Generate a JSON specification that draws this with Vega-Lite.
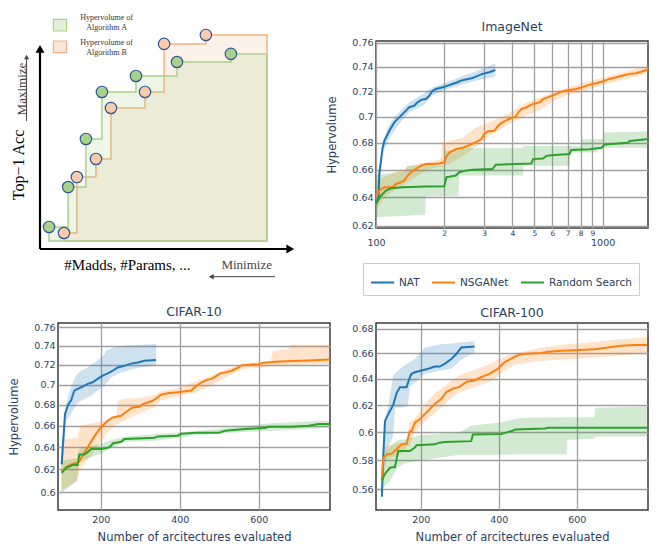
{
"$schema": "https://vega.github.io/schema/vega-lite/v6.json",
"padding": {"left": 8, "top": 13, "right": 5, "bottom": 0},
"background": "white",
"columns": 2,
"spacing": {"row": 95, "column": 46},
"bounds": "flush",
"align": "all",
"resolve": {"legend": {"color": "independent"}},
"datasets": {
"frontA": [{"u":3.5,"v":10.6,"pt":"sol"},{"u":10.9,"v":29.8,"pt":"sol"},{"u":17.8,"v":52.9,"pt":"sol"},{"u":24.0,"v":75.5,"pt":"sol"},{"u":37.2,"v":83.2,"pt":"sol"},{"u":53.1,"v":89.9,"pt":"sol"},{"u":74.0,"v":93.8,"pt":"sol"},{"u":88.0,"v":93.8,"pt":"ref"}],
"frontB": [{"u":9.3,"v":7.7,"pt":"sol"},{"u":14.3,"v":34.6,"pt":"sol"},{"u":21.7,"v":43.3,"pt":"sol"},{"u":27.5,"v":67.8,"pt":"sol"},{"u":40.7,"v":75.5,"pt":"sol"},{"u":48.1,"v":98.6,"pt":"sol"},{"u":64.3,"v":102.9,"pt":"sol"},{"u":88.0,"v":102.9,"pt":"ref"}],
"inLine": [
{"method":"NAT","x":100,"y":0.6353},{"method":"NAT","x":102.7,"y":0.64},{"method":"NAT","x":103.4,"y":0.6569},{"method":"NAT","x":107,"y":0.6763},{"method":"NAT","x":108.8,"y":0.6813},{"method":"NAT","x":114.5,"y":0.6891},{"method":"NAT","x":120.4,"y":0.6956},{"method":"NAT","x":126.7,"y":0.6995},{"method":"NAT","x":133.2,"y":0.7034},{"method":"NAT","x":140.2,"y":0.7074},{"method":"NAT","x":147.5,"y":0.7087},{"method":"NAT","x":152.6,"y":0.7113},{"method":"NAT","x":157.9,"y":0.7132},{"method":"NAT","x":166,"y":0.7139},{"method":"NAT","x":171.8,"y":0.7166},{"method":"NAT","x":177.7,"y":0.7205},{"method":"NAT","x":183.9,"y":0.7219},{"method":"NAT","x":196.8,"y":0.7232},{"method":"NAT","x":207,"y":0.7246},{"method":"NAT","x":217.7,"y":0.7259},{"method":"NAT","x":229,"y":0.7273},{"method":"NAT","x":237,"y":0.7286},{"method":"NAT","x":249,"y":0.7295},{"method":"NAT","x":266.5,"y":0.7308},{"method":"NAT","x":275.8,"y":0.7319},{"method":"NAT","x":295,"y":0.7341},{"method":"NAT","x":316,"y":0.7354},{"method":"NAT","x":336,"y":0.7373},
{"method":"NSGANet","x":100,"y":0.6405},{"method":"NSGANet","x":103.4,"y":0.6448},{"method":"NSGANet","x":108.8,"y":0.6472},{"method":"NSGANet","x":118.4,"y":0.6472},{"method":"NSGANet","x":122.5,"y":0.6496},{"method":"NSGANet","x":128.9,"y":0.6508},{"method":"NSGANet","x":133.2,"y":0.652},{"method":"NSGANet","x":137.9,"y":0.6557},{"method":"NSGANet","x":142.6,"y":0.6581},{"method":"NSGANet","x":150,"y":0.6605},{"method":"NSGANet","x":157.9,"y":0.6629},{"method":"NSGANet","x":166,"y":0.6641},{"method":"NSGANet","x":177.7,"y":0.6641},{"method":"NSGANet","x":190.1,"y":0.6646},{"method":"NSGANet","x":200,"y":0.6654},{"method":"NSGANet","x":203.4,"y":0.669},{"method":"NSGANet","x":210.4,"y":0.6727},{"method":"NSGANet","x":225.2,"y":0.6751},{"method":"NSGANet","x":240.9,"y":0.6763},{"method":"NSGANet","x":253.4,"y":0.6776},{"method":"NSGANet","x":266.5,"y":0.6793},{"method":"NSGANet","x":275.8,"y":0.6805},{"method":"NSGANet","x":290.9,"y":0.6826},{"method":"NSGANet","x":300,"y":0.6865},{"method":"NSGANet","x":310,"y":0.6886},{"method":"NSGANet","x":332.3,"y":0.6891},{"method":"NSGANet","x":343.6,"y":0.6922},{"method":"NSGANet","x":355.4,"y":0.6948},{"method":"NSGANet","x":373.7,"y":0.6969},{"method":"NSGANet","x":393,"y":0.6987},{"method":"NSGANet","x":413,"y":0.70},{"method":"NSGANet","x":425,"y":0.7034},{"method":"NSGANet","x":438.2,"y":0.706},{"method":"NSGANet","x":461,"y":0.7074},{"method":"NSGANet","x":493.2,"y":0.71},{"method":"NSGANet","x":527.8,"y":0.7113},{"method":"NSGANet","x":545.9,"y":0.7139},{"method":"NSGANet","x":584.1,"y":0.7158},{"method":"NSGANet","x":614.3,"y":0.7174},{"method":"NSGANet","x":646.6,"y":0.7192},{"method":"NSGANet","x":680.2,"y":0.7205},{"method":"NSGANet","x":715.5,"y":0.7211},{"method":"NSGANet","x":765.6,"y":0.7219},{"method":"NSGANet","x":805.4,"y":0.7232},{"method":"NSGANet","x":876.4,"y":0.7254},{"method":"NSGANet","x":937.9,"y":0.7265},{"method":"NSGANet","x":1003.5,"y":0.7281},{"method":"NSGANet","x":1073.7,"y":0.73},{"method":"NSGANet","x":1148.8,"y":0.7314},{"method":"NSGANet","x":1229,"y":0.7327},{"method":"NSGANet","x":1315,"y":0.7341},{"method":"NSGANet","x":1407,"y":0.7346},{"method":"NSGANet","x":1480,"y":0.7359},{"method":"NSGANet","x":1557,"y":0.7373},{"method":"NSGANet","x":1585,"y":0.7378},
{"method":"Random Search","x":100,"y":0.6353},{"method":"Random Search","x":105.2,"y":0.6412},{"method":"Random Search","x":110.7,"y":0.6448},{"method":"Random Search","x":116.4,"y":0.6465},{"method":"Random Search","x":131,"y":0.6472},{"method":"Random Search","x":166,"y":0.6477},{"method":"Random Search","x":200,"y":0.6479},{"method":"Random Search","x":204.7,"y":0.6545},{"method":"Random Search","x":210.4,"y":0.6548},{"method":"Random Search","x":225.2,"y":0.6557},{"method":"Random Search","x":233,"y":0.6581},{"method":"Random Search","x":249.1,"y":0.6593},{"method":"Random Search","x":266.5,"y":0.66},{"method":"Random Search","x":326.5,"y":0.6605},{"method":"Random Search","x":337.9,"y":0.6637},{"method":"Random Search","x":413,"y":0.6641},{"method":"Random Search","x":485,"y":0.6646},{"method":"Random Search","x":493.2,"y":0.6678},{"method":"Random Search","x":546,"y":0.6683},{"method":"Random Search","x":564,"y":0.6702},{"method":"Random Search","x":593,"y":0.6707},{"method":"Random Search","x":715,"y":0.6715},{"method":"Random Search","x":726,"y":0.6746},{"method":"Random Search","x":876,"y":0.6751},{"method":"Random Search","x":988,"y":0.6763},{"method":"Random Search","x":1023,"y":0.6788},{"method":"Random Search","x":1293,"y":0.68},{"method":"Random Search","x":1315,"y":0.6813},{"method":"Random Search","x":1557,"y":0.6826},{"method":"Random Search","x":1585,"y":0.683}
],
"inBand": [
{"series":"NAT","x":100,"lo":0.632,"hi":0.640},{"series":"NAT","x":104,"lo":0.650,"hi":0.665},{"series":"NAT","x":107,"lo":0.6715,"hi":0.6813},{"series":"NAT","x":114.5,"lo":0.6839,"hi":0.6943},{"series":"NAT","x":126.7,"lo":0.6943,"hi":0.7039},{"series":"NAT","x":140.2,"lo":0.7034,"hi":0.7113},{"series":"NAT","x":161.5,"lo":0.7087,"hi":0.7178},{"series":"NAT","x":177.7,"lo":0.7166,"hi":0.7232},{"series":"NAT","x":196.8,"lo":0.7205,"hi":0.7259},{"series":"NAT","x":233,"lo":0.7246,"hi":0.7314},{"series":"NAT","x":275.8,"lo":0.7286,"hi":0.7362},{"series":"NAT","x":336,"lo":0.7319,"hi":0.7427},
{"series":"NSGANet","x":100,"lo":0.630,"hi":0.652},{"series":"NSGANet","x":110,"lo":0.641,"hi":0.655},{"series":"NSGANet","x":130,"lo":0.648,"hi":0.660},{"series":"NSGANet","x":150,"lo":0.655,"hi":0.664},{"series":"NSGANet","x":175,"lo":0.661,"hi":0.666},{"series":"NSGANet","x":192,"lo":0.662,"hi":0.6675},{"series":"NSGANet","x":196,"lo":0.662,"hi":0.680},{"series":"NSGANet","x":210,"lo":0.664,"hi":0.681},{"series":"NSGANet","x":240,"lo":0.670,"hi":0.684},{"series":"NSGANet","x":276,"lo":0.677,"hi":0.6917},{"series":"NSGANet","x":316,"lo":0.685,"hi":0.6956},{"series":"NSGANet","x":393,"lo":0.695,"hi":0.7034},{"series":"NSGANet","x":413,"lo":0.697,"hi":0.706},{"series":"NSGANet","x":461,"lo":0.701,"hi":0.711},{"series":"NSGANet","x":528,"lo":0.705,"hi":0.715},{"series":"NSGANet","x":600,"lo":0.712,"hi":0.719},{"series":"NSGANet","x":700,"lo":0.717,"hi":0.723},{"series":"NSGANet","x":800,"lo":0.719,"hi":0.726},{"series":"NSGANet","x":1000,"lo":0.725,"hi":0.731},{"series":"NSGANet","x":1200,"lo":0.729,"hi":0.735},{"series":"NSGANet","x":1400,"lo":0.732,"hi":0.738},{"series":"NSGANet","x":1585,"lo":0.735,"hi":0.741},
{"series":"Random Search","x":100,"lo":0.626,"hi":0.656},{"series":"Random Search","x":135,"lo":0.627,"hi":0.659},{"series":"Random Search","x":136,"lo":0.627,"hi":0.663},{"series":"Random Search","x":165,"lo":0.628,"hi":0.663},{"series":"Random Search","x":166,"lo":0.641,"hi":0.663},{"series":"Random Search","x":198,"lo":0.641,"hi":0.663},{"series":"Random Search","x":200,"lo":0.641,"hi":0.674},{"series":"Random Search","x":231,"lo":0.641,"hi":0.674},{"series":"Random Search","x":233,"lo":0.6557,"hi":0.676},{"series":"Random Search","x":445,"lo":0.6557,"hi":0.676},{"series":"Random Search","x":447,"lo":0.6629,"hi":0.6775},{"series":"Random Search","x":715,"lo":0.6629,"hi":0.6776},{"series":"Random Search","x":717,"lo":0.6727,"hi":0.6776},{"series":"Random Search","x":805,"lo":0.6727,"hi":0.6776},{"series":"Random Search","x":807,"lo":0.6727,"hi":0.6826},{"series":"Random Search","x":950,"lo":0.6727,"hi":0.6826},{"series":"Random Search","x":952,"lo":0.6763,"hi":0.6826},{"series":"Random Search","x":1003,"lo":0.6763,"hi":0.6826},{"series":"Random Search","x":1005,"lo":0.6763,"hi":0.6878},{"series":"Random Search","x":1585,"lo":0.6763,"hi":0.6885}
],
"c10Line": [
{"method":"NAT","x":101.3,"y":0.6245},{"method":"NAT","x":109.7,"y":0.6711},{"method":"NAT","x":116.5,"y":0.679},{"method":"NAT","x":120.7,"y":0.6823},{"method":"NAT","x":125,"y":0.684},{"method":"NAT","x":133.3,"y":0.694},{"method":"NAT","x":141.8,"y":0.6957},{"method":"NAT","x":154.4,"y":0.698},{"method":"NAT","x":167,"y":0.7007},{"method":"NAT","x":179.7,"y":0.7023},{"method":"NAT","x":192.4,"y":0.7057},{"method":"NAT","x":205,"y":0.709},{"method":"NAT","x":217.7,"y":0.7113},{"method":"NAT","x":230.4,"y":0.714},{"method":"NAT","x":243,"y":0.7173},{"method":"NAT","x":259.9,"y":0.719},{"method":"NAT","x":276.8,"y":0.7213},{"method":"NAT","x":293.7,"y":0.7225},{"method":"NAT","x":310.6,"y":0.7242},{"method":"NAT","x":340,"y":0.7249},
{"method":"NSGANet","x":101.3,"y":0.6179},{"method":"NSGANet","x":116.5,"y":0.623},{"method":"NSGANet","x":129.1,"y":0.6251},{"method":"NSGANet","x":141.8,"y":0.626},{"method":"NSGANet","x":146,"y":0.6275},{"method":"NSGANet","x":158.6,"y":0.6349},{"method":"NSGANet","x":171.3,"y":0.6425},{"method":"NSGANet","x":184,"y":0.65},{"method":"NSGANet","x":196.6,"y":0.6568},{"method":"NSGANet","x":205,"y":0.66},{"method":"NSGANet","x":217.7,"y":0.6648},{"method":"NSGANet","x":230.4,"y":0.6679},{"method":"NSGANet","x":251.5,"y":0.6695},{"method":"NSGANet","x":268.4,"y":0.6743},{"method":"NSGANet","x":281,"y":0.6775},{"method":"NSGANet","x":297.9,"y":0.6781},{"method":"NSGANet","x":306.3,"y":0.6807},{"method":"NSGANet","x":319,"y":0.6823},{"method":"NSGANet","x":331.6,"y":0.684},{"method":"NSGANet","x":344.3,"y":0.6873},{"method":"NSGANet","x":352.7,"y":0.69},{"method":"NSGANet","x":369.6,"y":0.6913},{"method":"NSGANet","x":394.9,"y":0.6923},{"method":"NSGANet","x":428.7,"y":0.694},{"method":"NSGANet","x":443,"y":0.699},{"method":"NSGANet","x":455.7,"y":0.7023},{"method":"NSGANet","x":468.3,"y":0.7047},{"method":"NSGANet","x":481,"y":0.7057},{"method":"NSGANet","x":493.7,"y":0.709},{"method":"NSGANet","x":502.2,"y":0.7113},{"method":"NSGANet","x":514.8,"y":0.7123},{"method":"NSGANet","x":531.7,"y":0.714},{"method":"NSGANet","x":548.6,"y":0.7173},{"method":"NSGANet","x":557,"y":0.7197},{"method":"NSGANet","x":573.9,"y":0.72},{"method":"NSGANet","x":599.2,"y":0.7207},{"method":"NSGANet","x":611.9,"y":0.7223},{"method":"NSGANet","x":641.4,"y":0.7232},{"method":"NSGANet","x":683.6,"y":0.7239},{"method":"NSGANet","x":725.8,"y":0.7246},{"method":"NSGANet","x":780,"y":0.7256},
{"method":"Random Search","x":101.3,"y":0.617},{"method":"Random Search","x":112.2,"y":0.6215},{"method":"Random Search","x":129,"y":0.6239},{"method":"Random Search","x":141.8,"y":0.6239},{"method":"Random Search","x":146,"y":0.6334},{"method":"Random Search","x":158.6,"y":0.6334},{"method":"Random Search","x":167,"y":0.6355},{"method":"Random Search","x":175.5,"y":0.6384},{"method":"Random Search","x":200.8,"y":0.6384},{"method":"Random Search","x":217.7,"y":0.6394},{"method":"Random Search","x":226.2,"y":0.6414},{"method":"Random Search","x":230.4,"y":0.6435},{"method":"Random Search","x":251.5,"y":0.645},{"method":"Random Search","x":259.9,"y":0.6475},{"method":"Random Search","x":293.7,"y":0.648},{"method":"Random Search","x":335.9,"y":0.6488},{"method":"Random Search","x":344.3,"y":0.65},{"method":"Random Search","x":394.9,"y":0.6507},{"method":"Random Search","x":403.4,"y":0.6525},{"method":"Random Search","x":441.4,"y":0.6533},{"method":"Random Search","x":498,"y":0.6533},{"method":"Random Search","x":514.8,"y":0.6552},{"method":"Random Search","x":565.4,"y":0.657},{"method":"Random Search","x":616,"y":0.6578},{"method":"Random Search","x":624.5,"y":0.659},{"method":"Random Search","x":683.6,"y":0.659},{"method":"Random Search","x":725.8,"y":0.66},{"method":"Random Search","x":751,"y":0.6616},{"method":"Random Search","x":780,"y":0.6616}
],
"c10Band": [
{"series":"NAT","x":101.3,"lo":0.621,"hi":0.645},{"series":"NAT","x":103.8,"lo":0.628,"hi":0.6505},{"series":"NAT","x":112.2,"lo":0.6648,"hi":0.6807},{"series":"NAT","x":124.9,"lo":0.6711,"hi":0.6973},{"series":"NAT","x":137.6,"lo":0.68,"hi":0.709},{"series":"NAT","x":141.8,"lo":0.6823,"hi":0.711},{"series":"NAT","x":150.2,"lo":0.684,"hi":0.714},{"series":"NAT","x":158.6,"lo":0.6857,"hi":0.7155},{"series":"NAT","x":167.1,"lo":0.6875,"hi":0.7173},{"series":"NAT","x":175.5,"lo":0.689,"hi":0.72},{"series":"NAT","x":184,"lo":0.6915,"hi":0.7223},{"series":"NAT","x":192.4,"lo":0.694,"hi":0.725},{"series":"NAT","x":200.8,"lo":0.6965,"hi":0.7276},{"series":"NAT","x":209.3,"lo":0.699,"hi":0.731},{"series":"NAT","x":213.5,"lo":0.701,"hi":0.7348},{"series":"NAT","x":226.2,"lo":0.7073,"hi":0.737},{"series":"NAT","x":234.6,"lo":0.709,"hi":0.7383},{"series":"NAT","x":251.5,"lo":0.7123,"hi":0.7395},{"series":"NAT","x":259.9,"lo":0.713,"hi":0.74},{"series":"NAT","x":276.8,"lo":0.7156,"hi":0.7405},{"series":"NAT","x":302.1,"lo":0.7173,"hi":0.741},{"series":"NAT","x":340.1,"lo":0.719,"hi":0.7418},
{"series":"NSGANet","x":101,"lo":0.600,"hi":0.635},{"series":"NSGANet","x":104,"lo":0.602,"hi":0.647},{"series":"NSGANet","x":140,"lo":0.610,"hi":0.649},{"series":"NSGANet","x":150,"lo":0.622,"hi":0.660},{"series":"NSGANet","x":175,"lo":0.632,"hi":0.662},{"series":"NSGANet","x":200,"lo":0.645,"hi":0.664},{"series":"NSGANet","x":220,"lo":0.655,"hi":0.666},{"series":"NSGANet","x":240,"lo":0.662,"hi":0.669},{"series":"NSGANet","x":243,"lo":0.662,"hi":0.684},{"series":"NSGANet","x":260,"lo":0.665,"hi":0.686},{"series":"NSGANet","x":300,"lo":0.672,"hi":0.687},{"series":"NSGANet","x":340,"lo":0.679,"hi":0.690},{"series":"NSGANet","x":350,"lo":0.684,"hi":0.693},{"series":"NSGANet","x":400,"lo":0.689,"hi":0.697},{"series":"NSGANet","x":440,"lo":0.692,"hi":0.703},{"series":"NSGANet","x":480,"lo":0.699,"hi":0.709},{"series":"NSGANet","x":520,"lo":0.708,"hi":0.716},{"series":"NSGANet","x":560,"lo":0.716,"hi":0.721},{"series":"NSGANet","x":608,"lo":0.717,"hi":0.723},{"series":"NSGANet","x":630,"lo":0.719,"hi":0.724},{"series":"NSGANet","x":636,"lo":0.719,"hi":0.735},{"series":"NSGANet","x":675,"lo":0.720,"hi":0.736},{"series":"NSGANet","x":680,"lo":0.720,"hi":0.741},{"series":"NSGANet","x":780,"lo":0.721,"hi":0.741},
{"series":"Random Search","x":101,"lo":0.600,"hi":0.628},{"series":"Random Search","x":140,"lo":0.610,"hi":0.630},{"series":"Random Search","x":145,"lo":0.626,"hi":0.638},{"series":"Random Search","x":170,"lo":0.630,"hi":0.641},{"series":"Random Search","x":200,"lo":0.634,"hi":0.643},{"series":"Random Search","x":230,"lo":0.640,"hi":0.647},{"series":"Random Search","x":260,"lo":0.645,"hi":0.650},{"series":"Random Search","x":340,"lo":0.646,"hi":0.652},{"series":"Random Search","x":440,"lo":0.651,"hi":0.655},{"series":"Random Search","x":560,"lo":0.654,"hi":0.659},{"series":"Random Search","x":620,"lo":0.655,"hi":0.662},{"series":"Random Search","x":780,"lo":0.658,"hi":0.665}
],
"c100Line": [
{"method":"NAT","x":100,"y":0.555},{"method":"NAT","x":103.8,"y":0.5842},{"method":"NAT","x":108.1,"y":0.6083},{"method":"NAT","x":116.6,"y":0.6133},{"method":"NAT","x":129.4,"y":0.6204},{"method":"NAT","x":137.9,"y":0.6291},{"method":"NAT","x":146.4,"y":0.6335},{"method":"NAT","x":163.4,"y":0.6335},{"method":"NAT","x":171.9,"y":0.6413},{"method":"NAT","x":176.2,"y":0.6439},{"method":"NAT","x":184.7,"y":0.6452},{"method":"NAT","x":201.7,"y":0.6465},{"method":"NAT","x":218.7,"y":0.6478},{"method":"NAT","x":235.7,"y":0.6496},{"method":"NAT","x":248.5,"y":0.6496},{"method":"NAT","x":261.3,"y":0.6517},{"method":"NAT","x":278.3,"y":0.6556},{"method":"NAT","x":291.1,"y":0.6595},{"method":"NAT","x":303.8,"y":0.6647},{"method":"NAT","x":337.9,"y":0.6655},
{"method":"NSGANet","x":100,"y":0.5659},{"method":"NSGANet","x":103.8,"y":0.5819},{"method":"NSGANet","x":112.3,"y":0.5842},{"method":"NSGANet","x":125.1,"y":0.5847},{"method":"NSGANet","x":137.9,"y":0.5878},{"method":"NSGANet","x":150.6,"y":0.5913},{"method":"NSGANet","x":163.4,"y":0.5917},{"method":"NSGANet","x":171.9,"y":0.6008},{"method":"NSGANet","x":176.2,"y":0.6008},{"method":"NSGANet","x":184.7,"y":0.607},{"method":"NSGANet","x":197.4,"y":0.6095},{"method":"NSGANet","x":210.2,"y":0.6133},{"method":"NSGANet","x":223,"y":0.617},{"method":"NSGANet","x":235.7,"y":0.6208},{"method":"NSGANet","x":252.8,"y":0.6247},{"method":"NSGANet","x":265.5,"y":0.6299},{"method":"NSGANet","x":282.6,"y":0.6325},{"method":"NSGANet","x":299.6,"y":0.6338},{"method":"NSGANet","x":316.6,"y":0.6377},{"method":"NSGANet","x":337.9,"y":0.6387},{"method":"NSGANet","x":354.9,"y":0.6413},{"method":"NSGANet","x":376.2,"y":0.6439},{"method":"NSGANet","x":397.5,"y":0.6478},{"method":"NSGANet","x":414.5,"y":0.653},{"method":"NSGANet","x":441.7,"y":0.6574},{"method":"NSGANet","x":458.7,"y":0.6595},{"method":"NSGANet","x":484.3,"y":0.66},{"method":"NSGANet","x":509.8,"y":0.6603},{"method":"NSGANet","x":526.8,"y":0.6613},{"method":"NSGANet","x":560.9,"y":0.6621},{"method":"NSGANet","x":595,"y":0.6626},{"method":"NSGANet","x":646,"y":0.6634},{"method":"NSGANet","x":680,"y":0.6647},{"method":"NSGANet","x":714,"y":0.6661},{"method":"NSGANet","x":748.1,"y":0.6668},{"method":"NSGANet","x":780.5,"y":0.6668},
{"method":"Random Search","x":100,"y":0.5659},{"method":"Random Search","x":108.1,"y":0.5706},{"method":"Random Search","x":120.8,"y":0.5748},{"method":"Random Search","x":133.6,"y":0.5753},{"method":"Random Search","x":142.1,"y":0.5866},{"method":"Random Search","x":171.9,"y":0.5866},{"method":"Random Search","x":184.7,"y":0.589},{"method":"Random Search","x":188.9,"y":0.5906},{"method":"Random Search","x":235.7,"y":0.5913},{"method":"Random Search","x":248.5,"y":0.5925},{"method":"Random Search","x":261.3,"y":0.593},{"method":"Random Search","x":329.4,"y":0.5936},{"method":"Random Search","x":333.6,"y":0.5984},{"method":"Random Search","x":405.9,"y":0.5988},{"method":"Random Search","x":424.7,"y":0.6003},{"method":"Random Search","x":437.5,"y":0.6013},{"method":"Random Search","x":441.7,"y":0.602},{"method":"Random Search","x":518.3,"y":0.6028},{"method":"Random Search","x":526.8,"y":0.6033},{"method":"Random Search","x":780.5,"y":0.6033}
],
"c100Band": [
{"series":"NAT","x":100,"lo":0.555,"hi":0.558},{"series":"NAT","x":104,"lo":0.568,"hi":0.590},{"series":"NAT","x":110,"lo":0.580,"hi":0.612},{"series":"NAT","x":116.6,"lo":0.589,"hi":0.620},{"series":"NAT","x":129.4,"lo":0.598,"hi":0.6426},{"series":"NAT","x":133.6,"lo":0.618,"hi":0.644},{"series":"NAT","x":150.6,"lo":0.618,"hi":0.649},{"series":"NAT","x":167,"lo":0.620,"hi":0.652},{"series":"NAT","x":171.9,"lo":0.6335,"hi":0.653},{"series":"NAT","x":184.7,"lo":0.637,"hi":0.6556},{"series":"NAT","x":210.2,"lo":0.6439,"hi":0.6647},{"series":"NAT","x":252.8,"lo":0.6465,"hi":0.6674},{"series":"NAT","x":278,"lo":0.6478,"hi":0.668},{"series":"NAT","x":303.8,"lo":0.655,"hi":0.6687},{"series":"NAT","x":337.9,"lo":0.661,"hi":0.670},
{"series":"NSGANet","x":100,"lo":0.563,"hi":0.568},{"series":"NSGANet","x":104,"lo":0.575,"hi":0.588},{"series":"NSGANet","x":110,"lo":0.580,"hi":0.590},{"series":"NSGANet","x":150,"lo":0.585,"hi":0.5925},{"series":"NSGANet","x":165,"lo":0.590,"hi":0.593},{"series":"NSGANet","x":170,"lo":0.590,"hi":0.607},{"series":"NSGANet","x":185,"lo":0.600,"hi":0.610},{"series":"NSGANet","x":200,"lo":0.605,"hi":0.617},{"series":"NSGANet","x":220,"lo":0.610,"hi":0.624},{"series":"NSGANet","x":240,"lo":0.615,"hi":0.630},{"series":"NSGANet","x":260,"lo":0.620,"hi":0.634},{"series":"NSGANet","x":280,"lo":0.626,"hi":0.639},{"series":"NSGANet","x":300,"lo":0.630,"hi":0.643},{"series":"NSGANet","x":340,"lo":0.634,"hi":0.647},{"series":"NSGANet","x":380,"lo":0.638,"hi":0.652},{"series":"NSGANet","x":410,"lo":0.645,"hi":0.657},{"series":"NSGANet","x":440,"lo":0.651,"hi":0.660},{"series":"NSGANet","x":500,"lo":0.654,"hi":0.664},{"series":"NSGANet","x":560,"lo":0.655,"hi":0.667},{"series":"NSGANet","x":600,"lo":0.656,"hi":0.668},{"series":"NSGANet","x":700,"lo":0.658,"hi":0.671},{"series":"NSGANet","x":780,"lo":0.660,"hi":0.673},
{"series":"Random Search","x":100,"lo":0.560,"hi":0.570},{"series":"Random Search","x":110,"lo":0.563,"hi":0.585},{"series":"Random Search","x":120,"lo":0.565,"hi":0.590},{"series":"Random Search","x":140,"lo":0.575,"hi":0.594},{"series":"Random Search","x":160,"lo":0.578,"hi":0.595},{"series":"Random Search","x":200,"lo":0.580,"hi":0.598},{"series":"Random Search","x":250,"lo":0.582,"hi":0.599},{"series":"Random Search","x":300,"lo":0.584,"hi":0.600},{"series":"Random Search","x":330,"lo":0.584,"hi":0.605},{"series":"Random Search","x":400,"lo":0.584,"hi":0.607},{"series":"Random Search","x":460,"lo":0.5842,"hi":0.6107},{"series":"Random Search","x":574,"lo":0.5842,"hi":0.611},{"series":"Random Search","x":576,"lo":0.5945,"hi":0.611},{"series":"Random Search","x":645,"lo":0.5955,"hi":0.611},{"series":"Random Search","x":648,"lo":0.597,"hi":0.618},{"series":"Random Search","x":780,"lo":0.597,"hi":0.619}
]
},
"concat": [
{
"width": 272, "height": 187,
"view": {"stroke": null},
"encoding": {
"x": {"field":"u","type":"quantitative","scale":{"domain":[6.977,112.4],"nice":false,"zero":false},"axis":null},
"y": {"field":"v","type":"quantitative","scale":{"domain":[10.1,100],"nice":false,"zero":false},"axis":null}
},
"layer": [
{"data":{"name":"frontB"},"mark":{"type":"area","interpolate":"step-after","fill":"#f8cbad","fillOpacity":0.26,"stroke":"#f4b183","strokeWidth":1.5},"encoding":{"y2":{"datum":3.8}}},
{"data":{"name":"frontA"},"mark":{"type":"area","interpolate":"step-after","fill":"#a9d18e","fillOpacity":0.2,"stroke":"#a9d18e","strokeWidth":1.5},"encoding":{"y2":{"datum":3.8}}},
{"data":{"name":"frontB"},"transform":[{"filter":"datum.pt == 'sol'"}],"mark":{"type":"circle","size":130,"fill":"#f8cbad","stroke":"#2f5597","strokeWidth":1.2,"opacity":1}},
{"data":{"name":"frontA"},"transform":[{"filter":"datum.pt == 'sol'"}],"mark":{"type":"circle","size":130,"fill":"#a9d18e","stroke":"#2f5597","strokeWidth":1.2,"opacity":1}},
{"data":{"values":[{"u":5.2,"u2":10.3,"v":104.8,"v2":110.4}]},"mark":{"type":"rect","fill":"#e2f0d9","stroke":"#a9d18e","strokeWidth":1.2},"encoding":{"x2":{"field":"u2"},"y2":{"field":"v2"}}},
{"data":{"values":[{"u":5.2,"u2":10.3,"v":94.4,"v2":100}]},"mark":{"type":"rect","fill":"#fbe5d6","stroke":"#f4b183","strokeWidth":1.2},"encoding":{"x2":{"field":"u2"},"y2":{"field":"v2"}}},
{"data":{"values":[{"label":"Hypervolume of","u":25.8,"v":111.2},{"label":"Algorithm A","u":25.8,"v":106.4},{"label":"Hypervolume of","u":25.8,"v":99.2},{"label":"Algorithm B","u":25.8,"v":94.4}]},"mark":{"type":"text","font":"Liberation Serif","fontSize":8,"color":"#333333","align":"center","baseline":"middle"},"encoding":{"text":{"field":"label"}}},
{"data":{"values":[{"u":0,"v":0,"u2":0,"v2":96},{"u":0,"v":0,"u2":97,"v2":0}]},"mark":{"type":"rule","strokeWidth":2.2,"color":"black"},"encoding":{"x2":{"field":"u2"},"y2":{"field":"v2"}}},
{"data":{"values":[{"u":0,"v":96.25}]},"mark":{"type":"point","shape":"triangle-up","filled":true,"size":81,"color":"black","opacity":1}},
{"data":{"values":[{"u":97,"v":0}]},"mark":{"type":"point","shape":"triangle-right","filled":true,"size":81,"color":"black","opacity":1}},
{"data":{"values":[{"u":-5.2,"v":61.5,"u2":-5.2,"v2":92},{"u":66,"v":-13.3,"u2":91.1,"v2":-13.3}]},"mark":{"type":"rule","strokeWidth":1,"color":"#444444"},"encoding":{"x2":{"field":"u2"},"y2":{"field":"v2"}}},
{"data":{"values":[{"u":-5.2,"v":92.3}]},"mark":{"type":"point","shape":"triangle-up","filled":true,"size":25,"color":"#444444","opacity":1}},
{"data":{"values":[{"u":66.4,"v":-13.3}]},"mark":{"type":"point","shape":"triangle-left","filled":true,"size":30,"color":"#444444","opacity":1}},
{"data":{"values":[{"label":"Top−1 Acc","u":-8.1,"v":40.4}]},"mark":{"type":"text","font":"Liberation Serif","fontSize":16,"color":"black","angle":270,"align":"center","baseline":"middle"},"encoding":{"text":{"field":"label"}}},
{"data":{"values":[{"label":"Maximize","u":-7.0,"v":76.9}]},"mark":{"type":"text","font":"Liberation Serif","fontSize":13,"color":"#444444","angle":270,"align":"center","baseline":"middle"},"encoding":{"text":{"field":"label"}}},
{"data":{"values":[{"label":"#Madds, #Params, ...","u":33.9,"v":-7.7}]},"mark":{"type":"text","font":"Liberation Serif","fontSize":15,"color":"black","align":"center","baseline":"middle"},"encoding":{"text":{"field":"label"}}},
{"data":{"values":[{"label":"Minimize","u":80.1,"v":-7.7}]},"mark":{"type":"text","font":"Liberation Serif","fontSize":13,"color":"#444444","align":"center","baseline":"middle"},"encoding":{"text":{"field":"label"}}}
]
},
{
"width": 272, "height": 187,
"title": "ImageNet",
"layer": [
{"data":{"name":"inBand"},"mark":{"type":"area","opacity":0.22},
"encoding":{
"x":{"field":"x","type":"quantitative","title":null,"scale":{"type":"log","domain":[100,1585],"nice":false},"axis":{"values":[100,200,300,400,500,600,700,800,900,1000],"labelExpr":"datum.value == 100 ? '100' : datum.value == 1000 ? '1000' : format(datum.value / 100, 'd')","labelFontSize":{"condition":{"test":"datum.value == 100 || datum.value == 1000","value":9.5},"value":7.5},"labelPadding":{"condition":{"test":"datum.value == 100 || datum.value == 1000","value":9.5},"value":1.5},"labelFlush":false,"labelOverlap":false}},
"y":{"field":"hi","type":"quantitative","title":"Hypervolume","scale":{"type":"log","domain":[0.6186,0.7614],"nice":false},"axis":{"values":[0.62,0.64,0.66,0.68,0.7,0.72,0.74,0.76],"format":".2~f","labelOverlap":false}},
"y2":{"field":"lo"},
"fill":{"field":"series","type":"nominal","scale":{"domain":["NAT","NSGANet","Random Search"],"range":["#1f77b4","#ff7f0e","#2ca02c"]},"legend":null}
}},
{"data":{"name":"inLine"},"mark":{"type":"line","strokeWidth":2},
"encoding":{
"x":{"field":"x","type":"quantitative","title":null},
"y":{"field":"y","type":"quantitative","title":"Hypervolume"},
"color":{"field":"method","type":"nominal","scale":{"domain":["NAT","NSGANet","Random Search"],"range":["#1f77b4","#ff7f0e","#2ca02c"]},"legend":{"orient":"none","legendX":-13,"legendY":222,"direction":"horizontal","title":null,"symbolType":"stroke","symbolSize":529,"symbolStrokeWidth":2,"labelFontSize":10.5,"labelColor":"#2a3f5f","strokeColor":"#cccccc","padding":7,"columnPadding":8,"labelOffset":4}}
}}
]
},
{
"width": 272, "height": 187,
"title": "CIFAR-10",
"layer": [
{"data":{"name":"c10Band"},"mark":{"type":"area","opacity":0.22},
"encoding":{
"x":{"field":"x","type":"quantitative","title":"Number of arcitectures evaluated","scale":{"domain":[92,780],"nice":false,"zero":false},"axis":{"values":[200,400,600],"labelFlush":false}},
"y":{"field":"hi","type":"quantitative","title":"Hypervolume","scale":{"type":"log","domain":[0.5851,0.7644],"nice":false},"axis":{"values":[0.6,0.62,0.64,0.66,0.68,0.7,0.72,0.74,0.76],"format":".2~f","labelOverlap":false}},
"y2":{"field":"lo"},
"fill":{"field":"series","type":"nominal","scale":{"domain":["NAT","NSGANet","Random Search"],"range":["#1f77b4","#ff7f0e","#2ca02c"]},"legend":null}
}},
{"data":{"name":"c10Line"},"mark":{"type":"line","strokeWidth":2},
"encoding":{
"x":{"field":"x","type":"quantitative","title":"Number of arcitectures evaluated"},
"y":{"field":"y","type":"quantitative","title":"Hypervolume"},
"color":{"field":"method","type":"nominal","scale":{"domain":["NAT","NSGANet","Random Search"],"range":["#1f77b4","#ff7f0e","#2ca02c"]},"legend":null}
}}
]
},
{
"width": 272, "height": 187,
"title": "CIFAR-100",
"layer": [
{"data":{"name":"c100Band"},"mark":{"type":"area","opacity":0.22},
"encoding":{
"x":{"field":"x","type":"quantitative","title":"Number of arcitectures evaluated","scale":{"domain":[85,783],"nice":false,"zero":false},"axis":{"values":[200,400,600],"labelFlush":false}},
"y":{"field":"hi","type":"quantitative","title":null,"scale":{"type":"log","domain":[0.5462,0.6847],"nice":false},"axis":{"values":[0.56,0.58,0.6,0.62,0.64,0.66,0.68],"format":".2~f","labelOverlap":false}},
"y2":{"field":"lo"},
"fill":{"field":"series","type":"nominal","scale":{"domain":["NAT","NSGANet","Random Search"],"range":["#1f77b4","#ff7f0e","#2ca02c"]},"legend":null}
}},
{"data":{"name":"c100Line"},"mark":{"type":"line","strokeWidth":2},
"encoding":{
"x":{"field":"x","type":"quantitative","title":"Number of arcitectures evaluated"},
"y":{"field":"y","type":"quantitative","title":null},
"color":{"field":"method","type":"nominal","scale":{"domain":["NAT","NSGANet","Random Search"],"range":["#1f77b4","#ff7f0e","#2ca02c"]},"legend":null}
}}
]
}
],
"config": {
"font": "DejaVu Sans",
"view": {"stroke": "#3a3a3a", "strokeWidth": 1.5},
"axis": {"grid": true, "gridColor": "#a0a0a0", "gridWidth": 1.3, "domain": false, "ticks": false, "labelColor": "#2a3f5f", "labelFontSize": 9.5, "labelPadding": 3, "titleColor": "#2a3f5f", "titleFontSize": 11.5, "titleFontWeight": "normal"},
"axisY": {"titlePadding": 14},
"axisX": {"titlePadding": 8, "labelPadding": 4},
"title": {"fontSize": 12.5, "fontWeight": "normal", "color": "#2a3f5f", "offset": 4}
}
}
